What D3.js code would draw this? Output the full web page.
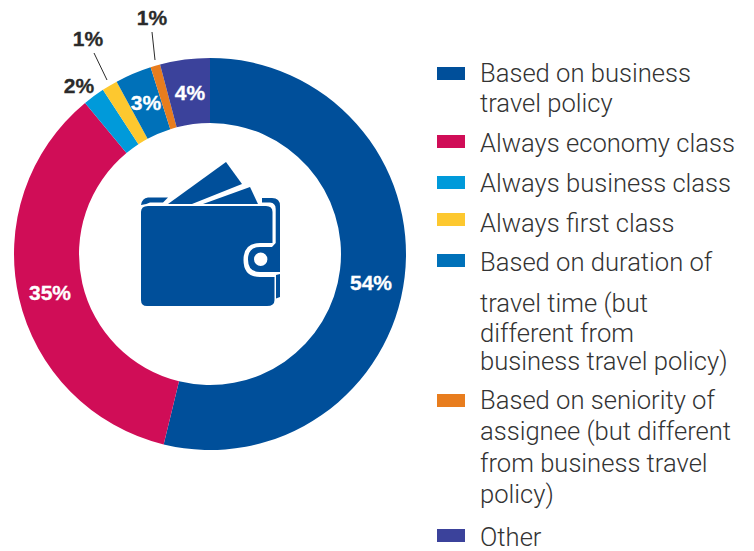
<!DOCTYPE html>
<html><head><meta charset="utf-8">
<script src="https://cdn.jsdelivr.net/npm/d3@7"></script>
<style>html,body{margin:0;padding:0;background:#fff}svg{display:block}</style>
</head><body><svg id="c" width="754" height="551"></svg>
<script>
const categories=["Based on business travel policy","Always economy class","Always business class","Always first class","Based on duration of travel time (but different from business travel policy)","Based on seniority of assignee (but different from business travel policy)","Other"];
const values=[53.8,35.2,1.8,1.3,3,0.8,4.1];
const valueLabels=["54%","35%","2%","1%","3%","1%","4%"];
const colors=["#004f9a","#d00d57","#009ada","#fdc82f","#0071b9","#e87d1e","#3b429b"];
const legendLines=[["Based on business","travel policy"],["Always economy class"],["Always business class"],["Always first class"],["Based on duration of","travel time (but","different from","business travel policy)"],["Based on seniority of","assignee (but different","from business travel","policy)"],["Other"]];
const lineBaselines=[[81.7,111.7],[151.7],[191.7],[231.7],[270.7,311.5,341.5,369.7],[408.7,439.7,471.7,502.7],[545.7]];
const swatchTops=[67,135,176,213,254,394,529];
const labelPos=[[371,290,"#fff"],[50,300,"#fff"],[79,93,"#2b2b2b"],[88,46,"#2b2b2b"],[146,110,"#fff"],[152,25,"#2b2b2b"],[190,100,"#fff"]];
const leaders=[null,null,null,[[94,53],[107,80]],null,[[152,32],[155,60]],null];

const svg=d3.select("#c");
const cx=210,cy=254,R=196,r=131;
const g=svg.append("g").attr("transform",`translate(${cx},${cy})`);
const pie=d3.pie().sort(null).value(d=>d);
const arc=d3.arc().innerRadius(r).outerRadius(R);
g.selectAll("path").data(pie(values)).join("path").attr("d",arc).attr("fill",(d,i)=>colors[i]);

leaders.forEach(l=>{if(l)svg.append("line").attr("x1",l[0][0]).attr("y1",l[0][1]).attr("x2",l[1][0]).attr("y2",l[1][1]).attr("stroke","#2b2b2b").attr("stroke-width",1);});
valueLabels.forEach((t,i)=>{
  const p=labelPos[i];
  svg.append("text").attr("x",p[0]).attr("y",p[1]).attr("text-anchor","middle")
    .attr("font-family","'Liberation Sans',Arial,sans-serif").attr("font-weight",700).attr("font-size",21).attr("fill",p[2]).attr("stroke",p[2]).attr("stroke-width",0.3).text(t);
});

// wallet icon
const w=svg.append("g").attr("fill","#004f9a");
w.append("path").attr("d","M168,204L226,162L242,184L192,204Z");
w.append("path").attr("d","M203,204L250,187L258,204Z");
w.append("path").attr("d","M148,206H266Q272.5,206 272.5,212V243H260Q243.5,243 243.5,260Q243.5,277 260,277H274.5V300Q274.5,306 267,306H147Q141,306 141,300V212Q141,206 148,206Z");
w.append("path").attr("d","M148,197.5H168L163,202.5H150Q147,204 141,205Q142,198 148,197.5Z");
w.append("path").attr("fill-rule","evenodd").attr("d","M262,198H272Q280,198 280,206V272H260Q248,272 248,259.5Q248,247 260,247H272L275.7,243V209Q275.7,203 270,202.5H262ZM267.4,259.3A6.7,6.7 0 1 0 254,259.3A6.7,6.7 0 1 0 267.4,259.3Z");
w.append("path").attr("d","M276,275L280,274V297L276,298.5Z");

// legend
categories.forEach((c,i)=>{
  svg.append("rect").attr("x",437).attr("y",swatchTops[i]).attr("width",28).attr("height",13).attr("fill",colors[i]);
  legendLines[i].forEach((ln,j)=>{
    svg.append("text").attr("x",480).attr("y",lineBaselines[i][j]).attr("font-family","Roboto,sans-serif").attr("font-weight",300).attr("font-size",25.6).attr("fill","#333").text(ln);
  });
});
</script></body></html>
